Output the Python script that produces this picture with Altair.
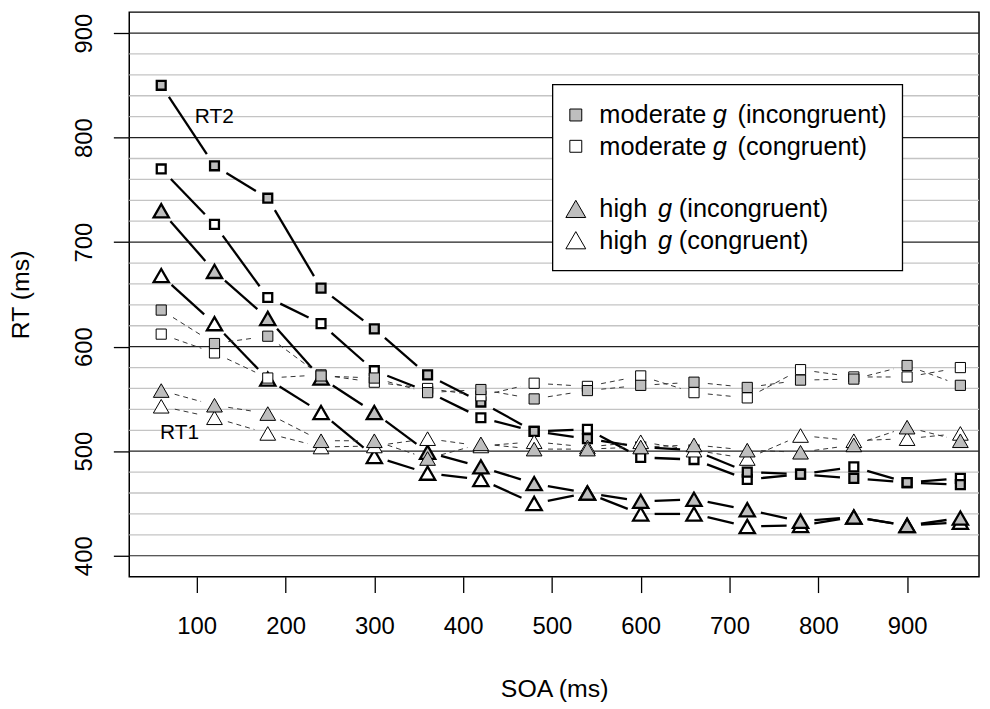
import altair as alt
import pandas as pd

# ---------------- data ----------------
SOA = [60, 120, 180, 240, 300, 360, 420, 480, 540, 600, 660, 720, 780, 840, 900, 960]

MOD_INC_RT2 = [850, 773, 742, 656, 617, 573, 547, 519, 512, 504, 501, 480, 478, 474, 470, 468]
MOD_CON_RT2 = [770, 717, 647, 622, 577, 557, 532, 519, 521, 494, 492, 473, 478, 485, 470, 474]
HIGH_INC_RT2 = [730, 672, 627, 570, 537, 499, 485, 469, 460, 452, 454, 444, 433, 437, 429, 436]
HIGH_CON_RT2 = [668, 622, 569, 537, 495, 479, 473, 450, 460, 440, 440, 428, 429, 437, 429, 432]

MOD_INC_RT1 = [635, 603, 610, 572, 570, 556, 559, 550, 558, 563, 566, 561, 568, 569, 582, 563]
MOD_CON_RT1 = [612, 594, 570, 573, 566, 560, 553, 565, 562, 572, 556, 551, 578, 571, 571, 580]
HIGH_INC_RT1 = [558, 544, 536, 510, 510, 493, 507, 502, 502, 504, 506, 501, 499, 506, 523, 510]
HIGH_CON_RT1 = [543, 532, 517, 504, 505, 512, 505, 509, 504, 509, 501, 493, 515, 510, 512, 517]

X_TICKS = [100, 200, 300, 400, 500, 600, 700, 800, 900]
Y_TICKS = [400, 500, 600, 700, 800, 900]
MINOR_GRID = [420, 440, 460, 480, 520, 540, 560, 580, 620, 640, 660, 680,
              720, 740, 760, 780, 820, 840, 860, 880]

LEGEND_LABELS = [("moderate", "(incongruent)"), ("moderate", "(congruent)"),
                 ("high", "(incongruent)"), ("high", "(congruent)")]

# ---------------- layout / style ----------------
XMIN, XMAX = 24, 981
YMIN, YMAX = 380, 920
W, H = 855, 568
FONT = "Liberation Sans"
GRAY = "#bebebe"
GAP = 14  # px gap between line ends and points (R type="b")

kx = W / (XMAX - XMIN)
ky = H / (YMAX - YMIN)

xs = alt.Scale(domain=[XMIN, XMAX], nice=False, zero=False)
ys = alt.Scale(domain=[YMIN, YMAX], nice=False, zero=False)


def segments(vals):
    rows = []
    for i in range(len(SOA) - 1):
        x1, x2 = SOA[i], SOA[i + 1]
        y1, y2 = vals[i], vals[i + 1]
        dx = (x2 - x1) * kx
        dy = (y2 - y1) * ky
        L = (dx * dx + dy * dy) ** 0.5
        if L <= 2 * GAP:
            continue
        t = GAP / L
        rows.append(dict(x=x1 + (x2 - x1) * t, x2=x2 - (x2 - x1) * t,
                         y=y1 + (y2 - y1) * t, y2=y2 - (y2 - y1) * t))
    return rows


def points(vals, shape, fill):
    return [dict(soa=s, rt=v, shape=shape, fill=fill) for s, v in zip(SOA, vals)]


seg_rt2 = pd.DataFrame(segments(HIGH_CON_RT2) + segments(HIGH_INC_RT2) +
                       segments(MOD_CON_RT2) + segments(MOD_INC_RT2))
seg_rt1 = pd.DataFrame(segments(HIGH_CON_RT1) + segments(HIGH_INC_RT1) +
                       segments(MOD_CON_RT1) + segments(MOD_INC_RT1))

sq_rt2 = pd.DataFrame(points(MOD_CON_RT2, "sq", "con") + points(MOD_INC_RT2, "sq", "inc"))
tri_rt2 = pd.DataFrame(points(HIGH_CON_RT2, "tri", "con") + points(HIGH_INC_RT2, "tri", "inc"))
sq_rt1 = pd.DataFrame(points(MOD_CON_RT1, "sq", "con") + points(MOD_INC_RT1, "sq", "inc"))
tri_rt1 = pd.DataFrame(points(HIGH_CON_RT1, "tri", "con") + points(HIGH_INC_RT1, "tri", "inc"))

fill_enc = alt.Fill("fill:N", scale=alt.Scale(domain=["inc", "con"], range=[GRAY, "#ffffff"]),
                    legend=None)

x_axis = alt.Axis(values=X_TICKS, title="SOA (ms)", tickSize=16, tickWidth=1.3,
                  tickColor="black", domain=False, grid=False, labelFont=FONT,
                  labelFontSize=24, labelPadding=22, labelColor="black",
                  labelFlush=False, labelOverlap=False,
                  titleFont=FONT, titleFontSize=25, titleFontWeight="normal",
                  titleColor="black", titleY=113, titleBaseline="middle")
y_axis = alt.Axis(values=Y_TICKS, title="RT (ms)", tickSize=16, tickWidth=1.3,
                  tickColor="black", domain=False, grid=False, labelFont=FONT,
                  labelFontSize=24, labelPadding=29, labelColor="black",
                  labelAngle=-90, labelAlign="center", labelBaseline="middle",
                  labelFlush=False, labelOverlap=False,
                  titleFont=FONT, titleFontSize=25, titleFontWeight="normal",
                  titleColor="black", titleAngle=-90, titleX=-109, titleY=H / 2,
                  titleBaseline="middle", titleAlign="center")

one = pd.DataFrame({"a": [0]})

# ---------------- layers ----------------
minor = alt.Chart(pd.DataFrame({"v": MINOR_GRID})).mark_rule(
    color="#c4c4c4", strokeWidth=1.3).encode(y=alt.Y("v:Q", scale=ys, axis=y_axis))
major = alt.Chart(pd.DataFrame({"v": Y_TICKS})).mark_rule(
    color="#222222", strokeWidth=1.2).encode(y=alt.Y("v:Q", scale=ys, axis=y_axis))

lines_rt2 = alt.Chart(seg_rt2).mark_rule(color="black", strokeWidth=2.3).encode(
    x=alt.X("x:Q", scale=xs, axis=x_axis), x2="x2:Q",
    y=alt.Y("y:Q", scale=ys, axis=y_axis), y2="y2:Q")
lines_rt1 = alt.Chart(seg_rt1).mark_rule(color="#333333", strokeWidth=1,
                                         strokeDash=[5, 4]).encode(
    x=alt.X("x:Q", scale=xs, axis=x_axis), x2="x2:Q",
    y=alt.Y("y:Q", scale=ys, axis=y_axis), y2="y2:Q")


def pt_layer(df, shape, size, sw):
    return alt.Chart(df).mark_point(filled=True, shape=shape, size=size, stroke="black",
                                    strokeWidth=sw, opacity=1).encode(
        x=alt.X("soa:Q", scale=xs, axis=x_axis),
        y=alt.Y("rt:Q", scale=ys, axis=y_axis),
        fill=fill_enc)


pts_tri_rt2 = pt_layer(tri_rt2, "triangle-up", 235, 2.3)
pts_sq_rt2 = pt_layer(sq_rt2, "square", 80, 2.3)
pts_tri_rt1 = pt_layer(tri_rt1, "triangle-up", 250, 1)
pts_sq_rt1 = pt_layer(sq_rt1, "square", 105, 1)

ann = [
    alt.Chart(one).mark_text(text="RT2", font=FONT, fontSize=21, align="left",
                             baseline="alphabetic", color="black").encode(
        x=alt.value(66), y=alt.value(111.7)),
    alt.Chart(one).mark_text(text="RT1", font=FONT, fontSize=21, align="left",
                             baseline="alphabetic", color="black").encode(
        x=alt.value(31), y=alt.value(430)),
]

# legend
legend_layers = [
    alt.Chart(one).mark_rect(fill="white", stroke="black", strokeWidth=1.3).encode(
        x=alt.value(426), x2=alt.value(778), y=alt.value(73), y2=alt.value(260))
]
row_base = [112, 143.5, 206.5, 238]
sym_shape = ["square", "square", "triangle-up", "triangle-up"]
sym_fill = [GRAY, "white", GRAY, "white"]
sym_size = [144, 144, 400, 400]
g_x = [587, 587, 532, 532]
rest_x = [612, 612, 553, 553]
for i, (word, rest) in enumerate(LEGEND_LABELS):
    b = row_base[i]
    legend_layers.append(
        alt.Chart(one).mark_point(shape=sym_shape[i], filled=True, fill=sym_fill[i],
                                  stroke="black", strokeWidth=1, size=sym_size[i],
                                  opacity=1).encode(
            x=alt.value(449.3), y=alt.value(b - 8.5)))
    legend_layers.append(
        alt.Chart(one).mark_text(text=word, font=FONT, fontSize=25.5, align="left",
                                 baseline="alphabetic", color="black").encode(
            x=alt.value(473), y=alt.value(b)))
    legend_layers.append(
        alt.Chart(one).mark_text(text="g", font=FONT, fontSize=25.5, fontStyle="italic",
                                 align="left", baseline="alphabetic", color="black").encode(
            x=alt.value(g_x[i]), y=alt.value(b)))
    legend_layers.append(
        alt.Chart(one).mark_text(text=rest, font=FONT, fontSize=25.5, align="left",
                                 baseline="alphabetic", color="black").encode(
            x=alt.value(rest_x[i]), y=alt.value(b)))

chart = alt.layer(
    minor, major, lines_rt2, pts_tri_rt2, pts_sq_rt2, lines_rt1, pts_tri_rt1, pts_sq_rt1,
    *ann, *legend_layers
).properties(
    width=W, height=H,
    autosize=alt.AutoSizeParams(type="none"),
    padding={"left": 122, "top": 2, "right": 3, "bottom": 128},
    background="white",
).configure_view(stroke="black", strokeWidth=1.5)

chart.save("out.html", embed_options={"renderer": "svg", "actions": False})
